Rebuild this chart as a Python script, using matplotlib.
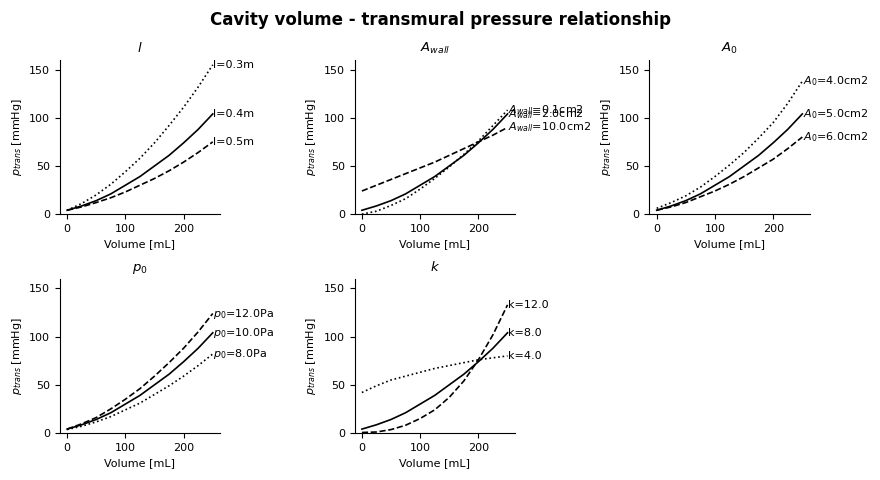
import matplotlib
matplotlib.use("Agg")
import matplotlib.pyplot as plt

# ── Data ───────────────────────────────────────────────────────────────

volume = [0, 25, 50, 75, 100, 125, 150, 175, 200, 225, 250]

# baseline curve shared by all panels (solid)
p_base = [4, 8.5, 14, 21, 30, 39, 50, 61, 74, 88, 104]

# l panel
p_l03 = [4, 11, 20, 31, 44, 58, 74, 92, 111, 132, 155]
p_l05 = [4, 7.5, 12, 17, 23, 30, 37, 45, 54, 64, 75]

# A_wall panel
p_aw01 = [0, 3, 9, 16, 26, 37, 49, 62, 76, 92, 108]
p_aw10 = [24, 30, 36, 42, 48, 54, 61, 68, 75, 82, 90]

# A_0 panel
p_a04 = [6, 12, 19, 28, 39, 51, 64, 79, 95, 115, 138]
p_a06 = [4, 7.5, 12, 18, 24, 31, 39, 48, 57, 68, 80]

# p_0 panel
p_p012 = [4, 9.5, 16, 25, 35, 46, 59, 73, 88, 105, 124]
p_p08 = [3.5, 7, 11.5, 17, 24, 31, 40, 49, 59, 70, 82]

# k panel
p_k12 = [0.5, 1, 3.5, 8, 15, 24, 37, 54, 76, 102, 133]
p_k4 = [42, 49, 55, 59, 63, 67, 70, 73, 76, 78, 80]

panels = [
    ("$l$", [(p_l03, ":", "l=0.3m"), (p_base, "-", "l=0.4m"), (p_l05, "--", "l=0.5m")]),
    ("$A_{wall}$", [(p_aw01, ":", "$A_{wall}$=0.1cm2"), (p_base, "-", "$A_{wall}$=2.0cm2"),
                    (p_aw10, "--", "$A_{wall}$=10.0cm2")]),
    ("$A_0$", [(p_a04, ":", "$A_0$=4.0cm2"), (p_base, "-", "$A_0$=5.0cm2"), (p_a06, "--", "$A_0$=6.0cm2")]),
    ("$p_0$", [(p_p08, ":", "$p_0$=8.0Pa"), (p_base, "-", "$p_0$=10.0Pa"), (p_p012, "--", "$p_0$=12.0Pa")]),
    ("$k$", [(p_k4, ":", "k=4.0"), (p_base, "-", "k=8.0"), (p_k12, "--", "k=12.0")]),
]

fig, axes = plt.subplots(2, 3, figsize=(8.8, 4.8), dpi=100)
fig.subplots_adjust(left=0.068, right=0.92, top=0.875, bottom=0.098, wspace=0.84, hspace=0.42)
fig.suptitle("Cavity volume - transmural pressure relationship", fontsize=12, fontweight="bold", y=0.978)

for ax, (title, curves) in zip(axes.flat, panels):
    for p, ls, label in curves:
        ax.plot(volume, p, color="black", linestyle=ls, linewidth=1.2)
        ax.text(volume[-1] + 1, p[-1], label, fontsize=8, ha="left", va="center")
    ax.set_title(title, fontsize=9.5)
    ax.set_ylim(0, 160)
    ax.set_xlim(-12.5, 262.5)
    ax.set_xticks([0, 100, 200])
    ax.set_yticks([0, 50, 100, 150])
    ax.tick_params(labelsize=8)
    ax.set_xlabel("Volume [mL]", fontsize=8)
    ax.set_ylabel("$p_{trans}$ [mmHg]", fontsize=8)
    ax.spines["top"].set_visible(False)
    ax.spines["right"].set_visible(False)

axes[1, 2].axis("off")

fig.savefig("out.png", dpi=100)
